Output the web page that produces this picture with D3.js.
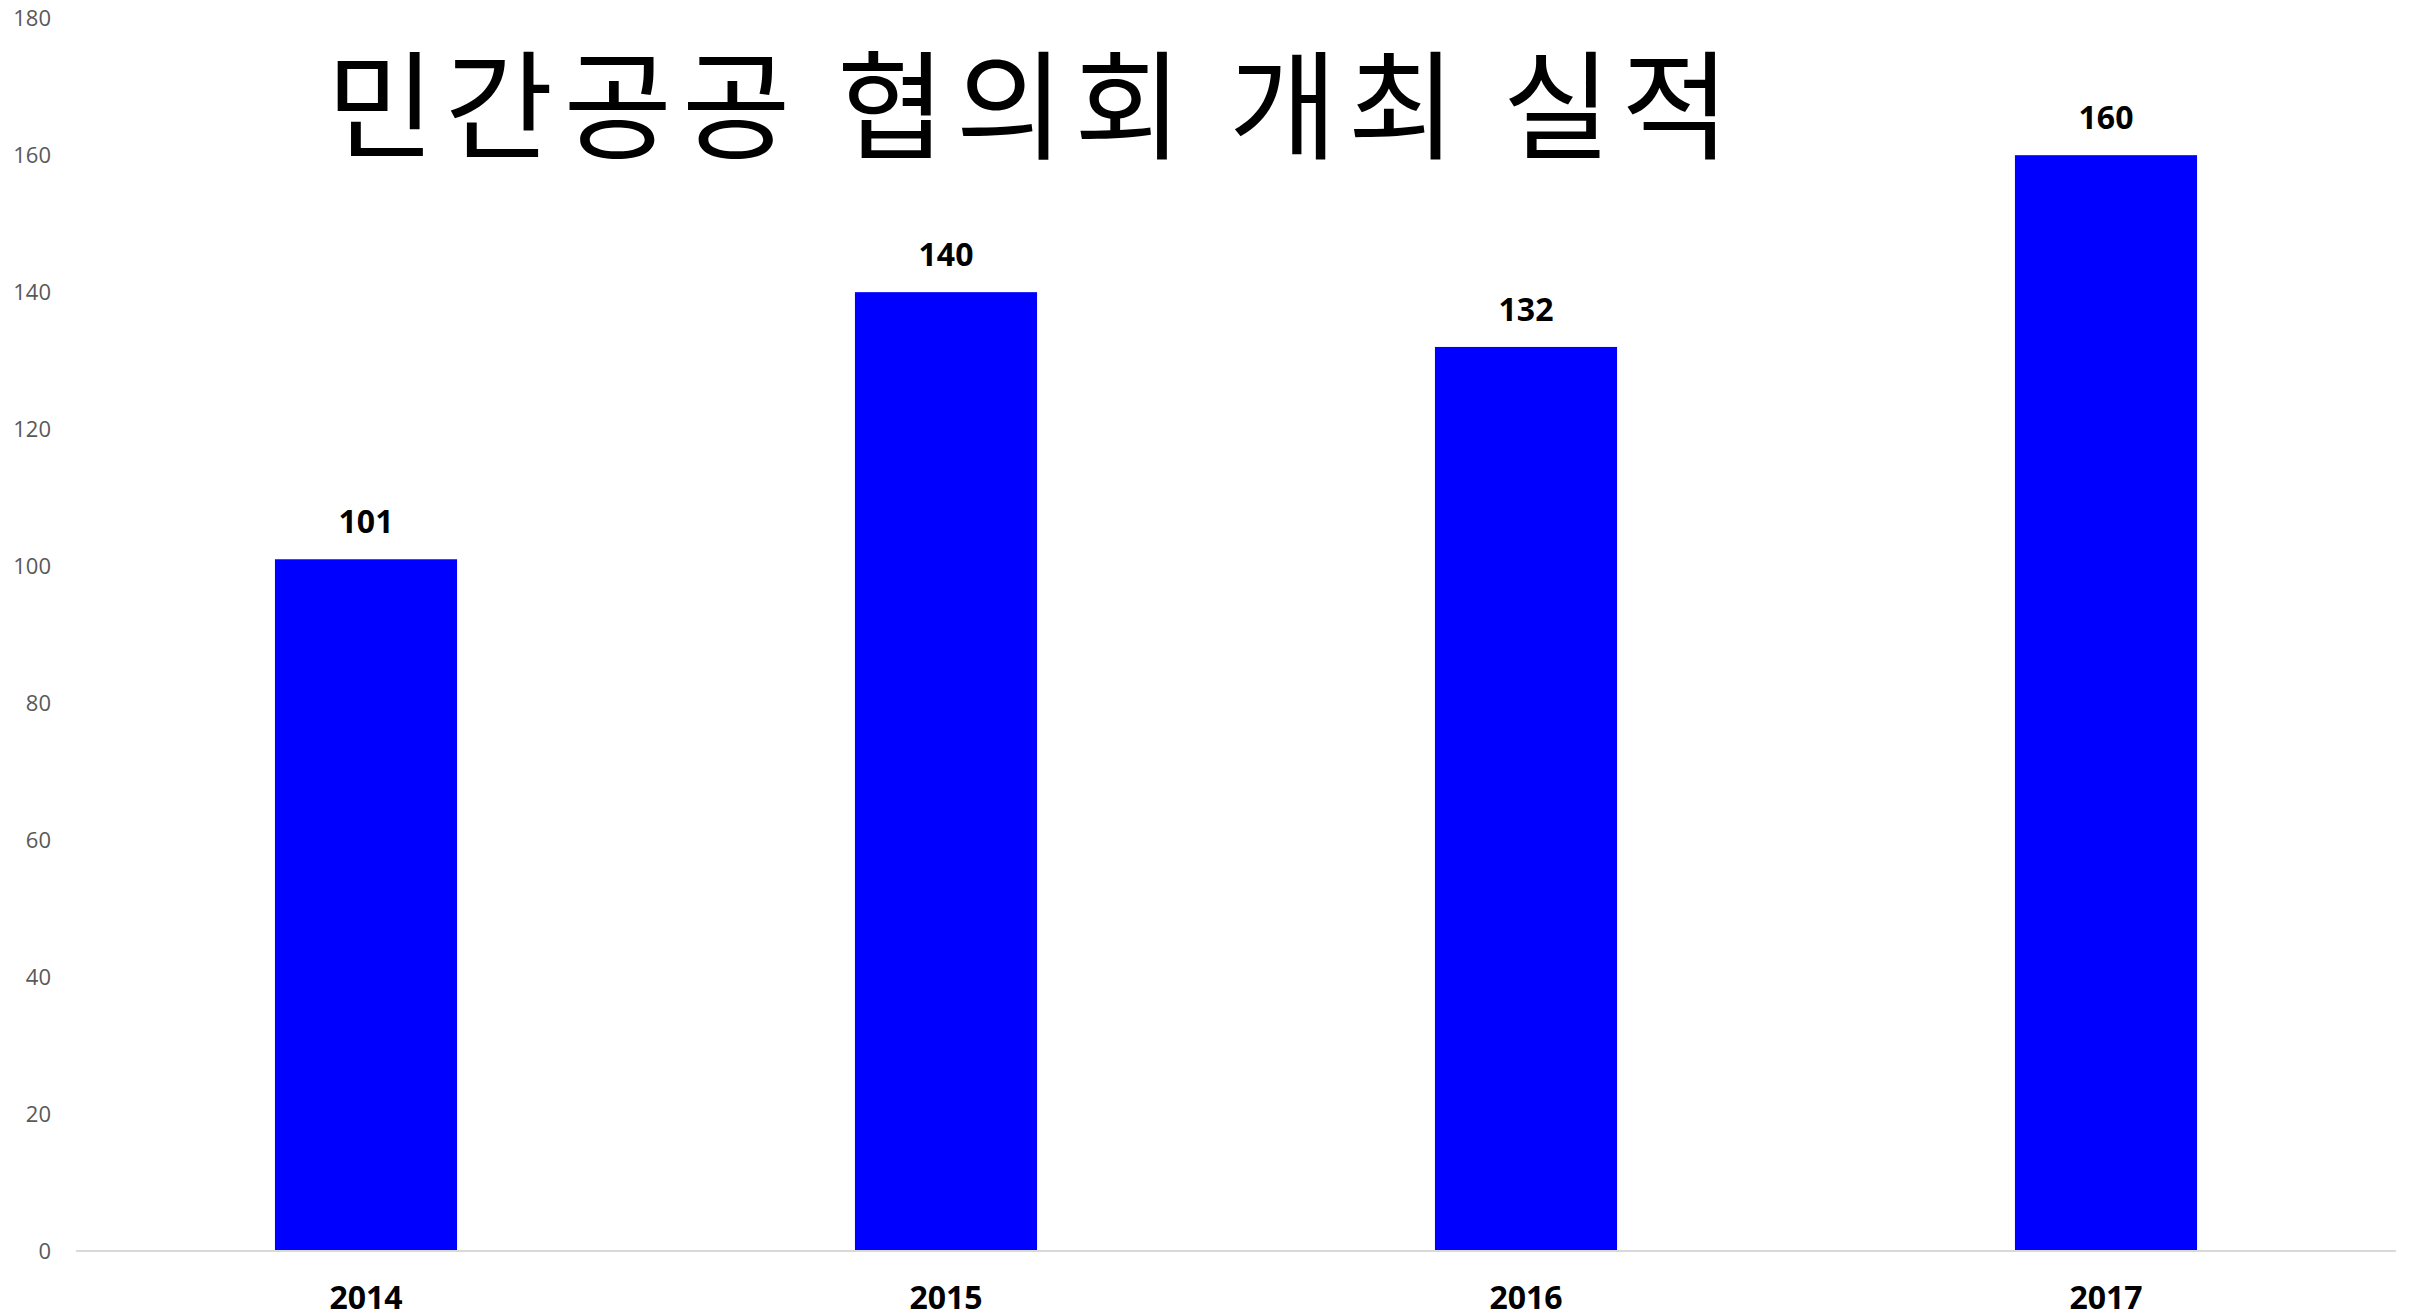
<!DOCTYPE html>
<html>
<head>
<meta charset="utf-8">
<script src="https://cdn.jsdelivr.net/npm/d3@7"></script>
<style>
  html, body { margin: 0; padding: 0; background: #fff; }
  svg { display: block; }
</style>
</head>
<body>
<script>
const categories = ["2014", "2015", "2016", "2017"];
const values = [101, 140, 132, 160];
const yTicks = [0, 20, 40, 60, 80, 100, 120, 140, 160, 180];
const titleText = "민간공공 협의회 개최 실적";

const W = 2427, H = 1316;
const plotLeft = 76, plotRight = 2396, plotTop = 18.2, plotBottom = 1251;

const svg = d3.select("body").append("svg").attr("width", W).attr("height", H);

const x = d3.scaleBand().domain(categories).range([plotLeft, plotRight])
  .paddingInner(0.686).paddingOuter(0.343);
const y = d3.scaleLinear().domain([0, 180]).range([plotBottom, plotTop]);

// y axis labels
const yAxis = d3.axisLeft(y).tickValues(yTicks).tickSize(0).tickPadding(0);
const gy = svg.append("g").attr("transform", `translate(51,0)`).call(yAxis);
gy.select(".domain").remove();
gy.selectAll("text").attr("font-family", "'Open Sans', 'Noto Sans', sans-serif")
  .attr("font-size", 22).attr("fill", "#595959");

// bars
svg.append("g").selectAll("rect").data(values).join("rect")
  .attr("x", (d, i) => x(categories[i]))
  .attr("y", d => y(d))
  .attr("width", x.bandwidth())
  .attr("height", d => y(0) - y(d))
  .attr("fill", "#0000ff");

// x axis
const xAxis = d3.axisBottom(x).tickSize(0).tickPadding(0);
const gx = svg.append("g").attr("transform", `translate(0,${plotBottom})`).call(xAxis);
gx.select(".domain").attr("stroke", "#d9d9d9").attr("stroke-width", 2)
  .attr("d", `M${plotLeft},0H${plotRight}`);
gx.selectAll("text").attr("font-family", "'Open Sans', 'Noto Sans', sans-serif")
  .attr("font-size", 32).attr("font-weight", "bold").attr("fill", "#000")
  .attr("dy", null).attr("y", 58);

// data labels
svg.append("g").selectAll("text").data(values).join("text")
  .attr("x", (d, i) => x(categories[i]) + x.bandwidth() / 2)
  .attr("y", d => y(d) - 26)
  .attr("text-anchor", "middle")
  .attr("font-family", "'Open Sans', 'Noto Sans', sans-serif")
  .attr("font-size", 32).attr("font-weight", "bold").attr("fill", "#000")
  .text(d => d);

// title
svg.append("text")
  .attr("x", 1033).attr("y", 150)
  .attr("text-anchor", "middle")
  .attr("font-family", "'Noto Sans CJK KR', sans-serif")
  .attr("font-size", 118).attr("fill", "#000")
  .attr("letter-spacing", 10)
  .text(titleText);
</script>
</body>
</html>
